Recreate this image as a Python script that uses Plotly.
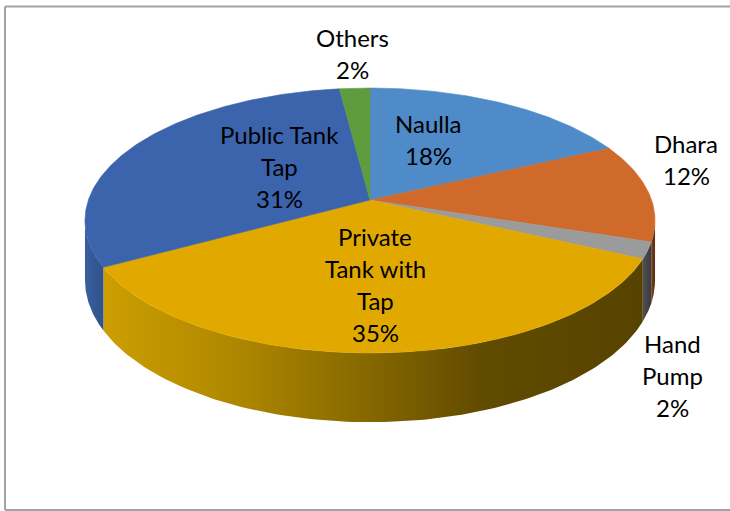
import numpy as np
import plotly.graph_objects as go

# Drinking-water sources (share of households, %)
categories = ["Naulla", "Dhara", "Hand Pump", "Private Tank with Tap", "Public Tank Tap", "Others"]
shares = [18, 12, 2, 35, 31, 2]
label_lines = [["Naulla"], ["Dhara"], ["Hand", "Pump"], ["Private", "Tank with", "Tap"],
               ["Public Tank", "Tap"], ["Others"]]

# top-face colours and side colours (left -> right shading)
top_colors = ["#4F8BC9", "#D06A2A", "#9B9B9B", "#E1A900", "#3C64AD", "#5F9C3E"]
side_scales = [
    [[0, "#3F6E9E"], [1, "#2E5078"]],
    [[0, "#7A3F18"], [1, "#5A2E12"]],
    [[0, "#505054"], [1, "#3A3A3E"]],
    [[0, "#CC9E00"], [0.25, "#AE8700"], [0.5, "#846600"], [0.7, "#614B00"], [1, "#574300"]],
    [[0, "#3A5F9E"], [1, "#30528C"]],
    [[0, "#4A7A30"], [1, "#3C6426"]],
]

# label anchor (centre of first line) and text layout
label_pos = [(428, 123), (686, 143), (672, 343), (375, 236), (279, 134), (352, 37)]
LINE_PITCH = 32

# projection of the tilted disc (simple perspective)
CX, CY = 370.0, 200.0
A, B, K = 281.6, 129.3, 0.1547
DEPTH = 58.5


def project(theta_deg, drop=0.0):
    t = np.radians(theta_deg)
    u, v = np.sin(t), np.cos(t)
    s = 1.0 / (1.0 + K * v)
    return CX + A * u * s, CY - B * v * s + drop * s


total = float(sum(shares))
bounds = np.concatenate([[0.0], np.cumsum(shares) / total * 360.0])
vis_lo = np.degrees(np.arccos(-K))
vis_hi = 360.0 - vis_lo

fig = go.Figure()

# visible rim of each slice
for i, name in enumerate(categories):
    a0, a1 = max(bounds[i], vis_lo), min(bounds[i + 1], vis_hi)
    if a1 <= a0:
        continue
    th = np.linspace(a0, a1, 120)
    xt, yt = project(th)
    xb, yb = project(th[::-1], DEPTH)
    xs = np.concatenate([xt, xb, xt[:1]])
    ys = np.concatenate([yt, yb, yt[:1]])
    fig.add_trace(go.Scatter(
        x=xs, y=ys, mode="lines", fill="toself",
        line=dict(width=0, color="rgba(0,0,0,0)"),
        fillgradient=dict(type="horizontal", colorscale=side_scales[i]),
        hoverinfo="skip", showlegend=False))

# top faces
for i, name in enumerate(categories):
    th = np.linspace(bounds[i], bounds[i + 1], max(int(shares[i] * 6), 12))
    xa, ya = project(th)
    xs = np.concatenate([[CX], xa, [CX]])
    ys = np.concatenate([[CY], ya, [CY]])
    fig.add_trace(go.Scatter(
        x=xs, y=ys, mode="lines", fill="toself", fillcolor=top_colors[i],
        line=dict(width=0.6, color=top_colors[i]),
        name=name, hoverinfo="name", showlegend=False))

# data labels
for i, lines in enumerate(label_lines):
    x0, y0 = label_pos[i]
    rows = lines + [f"{shares[i]}%"]
    for j, row in enumerate(rows):
        fig.add_annotation(x=x0, y=y0 + j * LINE_PITCH, text=row, showarrow=False,
                           xanchor="center", yanchor="middle",
                           font=dict(family="Lato", size=24, color="#000000"))

# chart border: left, top and bottom edges only
border = dict(color="#A3A3A3", width=2)
for (bx0, by0, bx1, by1) in [(5, 6.5, 5, 510), (5, 6.5, 730, 6.5), (5, 510, 730, 510)]:
    fig.add_shape(type="line", x0=bx0, y0=by0, x1=bx1, y1=by1, line=border, layer="above")

fig.update_layout(
    width=730, height=511,
    margin=dict(l=0, r=0, t=0, b=0),
    paper_bgcolor="white", plot_bgcolor="white",
    xaxis=dict(range=[0, 730], visible=False, fixedrange=True),
    yaxis=dict(range=[511, 0], visible=False, fixedrange=True),
)

fig.write_html("out.html")
